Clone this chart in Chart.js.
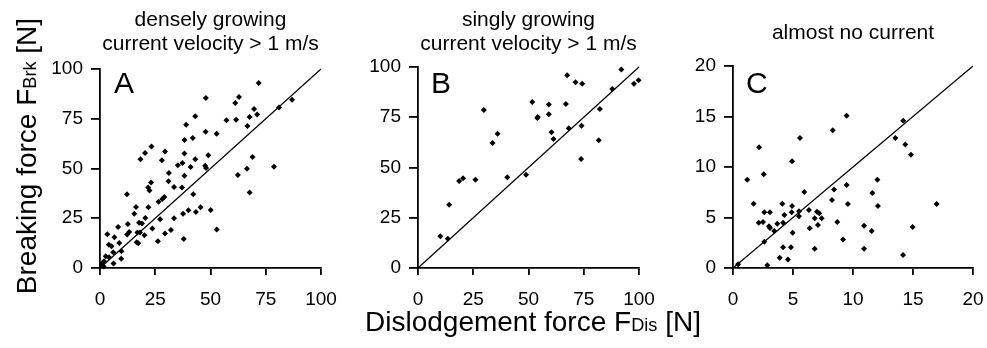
<!DOCTYPE html>
<html>
<head>
<meta charset="utf-8">
<script src="https://cdn.jsdelivr.net/npm/chart.js@4.4.1/dist/chart.umd.min.js"></script>
<style>
  body { margin: 0; background: #fff; font-family: "Liberation Sans", Arial, sans-serif; color: #000; }
  #wrap { position: relative; width: 987px; height: 348px; overflow: hidden; }
  canvas { position: absolute; }
  .txt { position: absolute; white-space: nowrap; text-align: center; }
  .ttl { font-size: 21px; line-height: 24px; }
  .letter { position: absolute; font-size: 30px; line-height: 30px; }
  .sub { font-size: 0.65em; }
</style>
</head>
<body>
<div id="wrap">
  <canvas id="chartA" width="316" height="266" style="left:40px;top:44px"></canvas>
  <canvas id="chartB" width="316" height="268" style="left:358px;top:42px"></canvas>
  <canvas id="chartC" width="335" height="269" style="left:673px;top:41px"></canvas>

  <div class="txt ttl" style="left:100px;width:221px;top:7px">densely growing<br>current velocity &gt; 1 m/s</div>
  <div class="txt ttl" style="left:418px;width:221px;top:7px">singly growing<br>current velocity &gt; 1 m/s</div>
  <div class="txt ttl" style="left:733px;width:240px;top:20px">almost no current</div>

  <div class="letter" style="left:114px;top:68px">A</div>
  <div class="letter" style="left:431px;top:68px">B</div>
  <div class="letter" style="left:746px;top:68px">C</div>

  <div class="txt" style="left:-133px;top:140px;width:320px;height:32px;font-size:28px;line-height:32px;transform:rotate(-90deg)">Breaking force F<span class="sub">Brk</span> [N]</div>
  <div class="txt" style="left:333px;top:306px;width:400px;font-size:28px;line-height:32px">Dislodgement force F<span class="sub">Dis</span> [N]</div>
</div>

<script>
// panel A: densely growing
const xA = [71.8, 47.9, 62.9, 61.2, 86.9, 81.0, 69.7, 71.1, 67.7, 61.6, 57.2, 43.1, 39.0, 66.7, 47.8, 52.8, 42.0, 38.2, 23.3, 20.4,
            29.4, 18.3, 28.0, 38.2, 49.0, 37.3, 35.2, 43.1, 41.0, 47.6, 48.0, 69.0, 66.5, 62.4, 78.7, 31.2, 38.2, 31.0, 23.1, 21.8,
            22.4, 33.5, 37.1, 42.2, 67.7, 12.2, 29.1, 28.2, 26.5, 16.3, 21.9, 15.5, 20.5, 17.7, 19.0, 27.2, 33.5, 37.6, 40.0, 43.4,
            45.5, 50.1, 12.6, 8.2, 3.3, 6.5, 8.7, 4.0, 5.2, 12.3, 13.2, 16.9, 18.1, 20.1, 16.6, 17.3, 23.7, 26.2, 29.4, 32.1,
            37.9, 52.8, 9.7, 6.0, 9.6, 2.6, 4.1, 6.1, 1.1, 1.7, 0.8, 1.8];
const yA = [93.0, 85.4, 85.9, 82.9, 84.6, 80.7, 79.9, 77.1, 75.9, 74.5, 74.2, 76.2, 72.0, 71.4, 68.5, 67.5, 65.3, 64.3, 61.1, 57.8,
            58.5, 54.6, 54.1, 57.5, 56.6, 52.8, 51.6, 54.6, 50.8, 51.4, 50.3, 55.8, 49.9, 46.7, 50.9, 47.7, 46.4, 43.6, 43.0, 40.5,
            39.0, 40.7, 40.4, 37.0, 38.0, 37.0, 35.7, 34.7, 33.3, 30.7, 30.5, 27.3, 25.1, 22.8, 22.4, 24.5, 25.0, 27.3, 29.0, 28.1,
            30.5, 29.1, 22.1, 20.6, 16.9, 15.4, 12.6, 11.7, 10.9, 16.8, 18.1, 17.9, 17.9, 16.4, 12.9, 12.4, 19.9, 13.4, 17.3, 19.1,
            14.6, 19.3, 8.4, 7.9, 4.7, 5.9, 5.4, 2.2, 2.5, 0.8, 1.2, 3.4];

// panel B: singly growing
const xB = [92.0, 67.5, 71.3, 74.3, 99.8, 97.7, 87.9, 51.7, 59.2, 66.9, 29.8, 82.3, 54.0, 54.2, 59.2, 60.4, 61.3, 68.2, 74.0, 81.8,
            73.8, 36.0, 33.7, 18.6, 20.4, 26.0, 40.4, 48.9, 14.1, 10.1, 13.5];
const yB = [98.7, 95.9, 92.4, 91.7, 93.4, 91.7, 89.1, 82.6, 81.3, 81.6, 78.6, 79.1, 74.6, 75.1, 76.5, 67.5, 64.2, 69.5, 70.8, 63.5,
            54.2, 66.8, 62.2, 43.3, 44.6, 43.9, 45.1, 46.4, 31.5, 15.8, 14.6];

// panel C: almost no current
const xC = [9.47, 14.19, 8.31, 5.58, 2.17, 13.53, 14.36, 14.83, 4.92, 2.56, 1.19, 12.03, 9.47, 8.42, 5.94, 11.61, 8.25, 1.72, 4.11, 9.58,
            16.97, 12.08, 4.92, 2.61, 3.08, 4.89, 5.5, 6.33, 4.28, 7.0, 7.19, 5.5, 6.81, 7.39, 2.14, 2.5, 3.69, 4.17, 3.0, 3.08,
            3.44, 7.08, 6.39, 8.69, 10.92, 11.56, 14.97, 4.97, 2.61, 9.17, 4.17, 4.83, 6.81, 10.92, 3.89, 4.58, 14.17, 2.86, 0.42];
const yC = [15.08, 14.59, 13.63, 12.87, 11.95, 12.87, 12.24, 11.22, 10.56, 9.27, 8.75, 8.75, 8.22, 7.76, 7.52, 7.43, 6.73, 6.37, 6.37, 6.34,
            6.34, 6.14, 6.14, 5.51, 5.51, 5.51, 5.61, 5.74, 5.25, 5.58, 5.41, 5.12, 4.92, 4.92, 4.49, 4.55, 4.39, 4.49, 4.13, 3.96,
            3.66, 4.26, 3.93, 4.55, 4.19, 3.66, 4.06, 3.5, 2.61, 2.81, 2.05, 2.05, 1.91, 1.91, 1.02, 0.83, 1.29, 0.26, 0.36];

// 1:1 lines
const lineAB = [0, 100];
const lineC = [0, 20];

const ticksAB = [0, 25, 50, 75, 100];
const ticksC = [0, 5, 10, 15, 20];

const FONT = "'Liberation Sans', Arial, sans-serif";

function toPoints(xs, ys) {
    return xs.map((x, i) => ({ x: x, y: ys[i] }));
}

function makePanel(id, xs, ys, line, ticks, pad) {
    const max = ticks[ticks.length - 1];
    const step = ticks[1] - ticks[0];

    const axis = (isX) => ({
        type: "linear",
        min: 0,
        max: max,
        border: { display: true, color: "#000", width: 1.8 },
        grid: {
            display: true,
            drawOnChartArea: false,
            drawTicks: true,
            tickLength: isX ? 7 : 9,
            color: "#000",
            lineWidth: 1.8
        },
        ticks: {
            stepSize: step,
            color: "#000",
            padding: isX ? 13 : 8,
            maxRotation: 0,
            font: { family: FONT, size: 19 }
        },
        afterFit: (s) => {
            if (isX) s.height = 42;
            else s.width = 60;
        }
    });

    new Chart(document.getElementById(id), {
        type: "scatter",
        data: {
            datasets: [
                {
                    data: toPoints(xs, ys),
                    pointStyle: "rectRot",
                    pointRadius: 3,
                    pointBorderWidth: 0,
                    backgroundColor: "#000",
                    borderColor: "#000",
                    clip: false
                },
                {
                    data: toPoints(line, line),
                    showLine: true,
                    pointRadius: 0,
                    borderColor: "#000",
                    borderWidth: 1.2,
                    clip: false
                }
            ]
        },
        options: {
            responsive: false,
            animation: false,
            devicePixelRatio: 1,
            layout: { padding: pad },
            plugins: {
                legend: { display: false },
                tooltip: { enabled: false }
            },
            scales: { x: axis(true), y: axis(false) }
        }
    });
}

// padding kept wider than the edge-label overhang so the plot boxes land where the reference has them
makePanel("chartA", xA, yA, lineAB, ticksAB, { left: 0, right: 35, top: 25, bottom: 0 });
makePanel("chartB", xB, yB, lineAB, ticksAB, { left: 0, right: 35, top: 25, bottom: 0 });
makePanel("chartC", xC, yC, lineC, ticksC, { left: 0, right: 35, top: 25, bottom: 0 });
</script>
</body>
</html>
